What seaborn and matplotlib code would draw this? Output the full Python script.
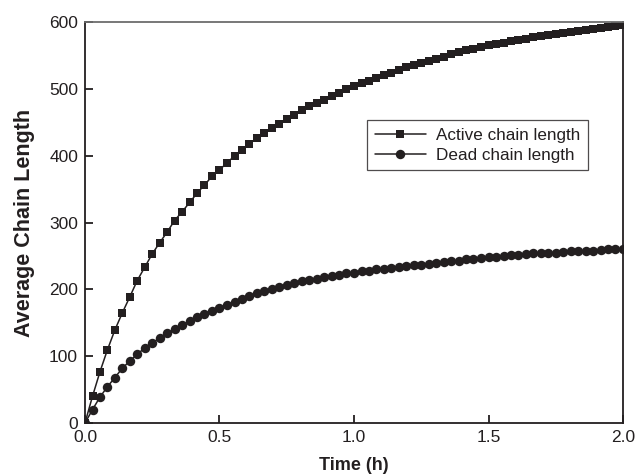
#!/usr/bin/env python3
"""
Average chain length of active and dead chains against time.
"""
import seaborn as sns
import matplotlib
matplotlib.use("Agg")
import matplotlib.pyplot as plt
import pandas as pd

SNS_CUSTOM_CONFIG_PARAMS = {"xtick.direction": "in",
                            "ytick.direction": "in",
                            "axes.edgecolor": "#231f20",
                            "axes.linewidth": 1.3}
sns.set_theme(style='ticks', rc=SNS_CUSTOM_CONFIG_PARAMS)
plt.rcParams['font.family'] = ['Liberation Sans', 'DejaVu Sans']

# sample times (h)
time_h = [0.000, 0.028, 0.056, 0.083, 0.111, 0.139, 0.167, 0.194, 0.222, 0.250,
          0.278, 0.306, 0.333, 0.361, 0.389, 0.417, 0.444, 0.472, 0.500,
          0.528, 0.556, 0.583, 0.611, 0.639, 0.667, 0.694, 0.722, 0.750,
          0.778, 0.806, 0.833, 0.861, 0.889, 0.917, 0.944, 0.972, 1.000,
          1.028, 1.056, 1.083, 1.111, 1.139, 1.167, 1.194, 1.222, 1.250,
          1.278, 1.306, 1.333, 1.361, 1.389, 1.417, 1.444, 1.472, 1.500,
          1.528, 1.556, 1.583, 1.611, 1.639, 1.667, 1.694, 1.722, 1.750,
          1.778, 1.806, 1.833, 1.861, 1.889, 1.917, 1.944, 1.972, 2.000]

active_len = [0, 40, 77, 109, 139, 165, 189, 213, 233, 253,
              270, 286, 303, 316, 330, 344, 356, 369, 379,
              389, 400, 409, 418, 426, 434, 441, 448, 455,
              461, 468, 474, 479, 484, 490, 494, 500, 504,
              509, 512, 516, 521, 524, 528, 532, 536, 539,
              542, 545, 548, 552, 555, 558, 560, 563, 565,
              567, 569, 571, 573, 575, 577, 579, 580, 582,
              583, 585, 586, 588, 589, 591, 592, 594, 595]

dead_len = [0, 20, 39, 54, 68, 82, 93, 103, 112, 120,
            127, 134, 140, 147, 152, 158, 163, 168, 172,
            177, 181, 186, 190, 194, 197, 201, 204, 207,
            210, 212, 214, 216, 218, 220, 222, 224, 225,
            227, 228, 230, 231, 232, 233, 235, 236, 237,
            238, 240, 241, 242, 243, 245, 246, 247, 248,
            249, 250, 251, 252, 253, 254, 254, 255, 255,
            256, 257, 257, 258, 258, 259, 260, 260, 261]

INK = '#231f20'

df = pd.DataFrame({'time': time_h, 'active': active_len, 'dead': dead_len})

fig = plt.figure(figsize=(6.36, 4.76), dpi=100)
ax = fig.add_axes([0.1336, 0.1113, 0.846, 0.8425])

sns.lineplot(data=df, x='time', y='active', ax=ax, color=INK, lw=1.1,
             marker='s', markersize=6.3, markeredgewidth=0,
             label='Active chain length')
sns.lineplot(data=df, x='time', y='dead', ax=ax, color=INK, lw=1.1,
             marker='o', markersize=6.8, markeredgewidth=0,
             label='Dead chain length')

ax.set_xlim(0, 2.0)
ax.set_ylim(0, 600)
ax.set_xticks([0.0, 0.5, 1.0, 1.5, 2.0])
ax.set_xticklabels(['0.0', '0.5', '1.0', '1.5', '2.0'])
ax.set_yticks([0, 100, 200, 300, 400, 500, 600])
ax.tick_params(axis='both', labelsize=12.5, length=6, width=1.3,
               color=INK, labelcolor=INK, pad=5)
ax.tick_params(top=False, right=False)
ax.spines['top'].set_color('#6d6d6d')

ax.set_xlabel('Time (h)', fontsize=13, fontweight='bold', color=INK, labelpad=9)
ax.set_ylabel('Average Chain Length', fontsize=15.5, fontweight='bold', color=INK, labelpad=10)

leg = ax.legend(loc='upper left', bbox_to_anchor=(0.524, 0.756), fontsize=12.3,
                frameon=True, fancybox=False, handlelength=3.0, borderaxespad=0,
                borderpad=0.45, labelspacing=0.3, handletextpad=0.6)
leg.get_frame().set_edgecolor(INK)
leg.get_frame().set_linewidth(0.9)
for text in leg.get_texts():
    text.set_color(INK)

fig.savefig('out.png', dpi=100)
